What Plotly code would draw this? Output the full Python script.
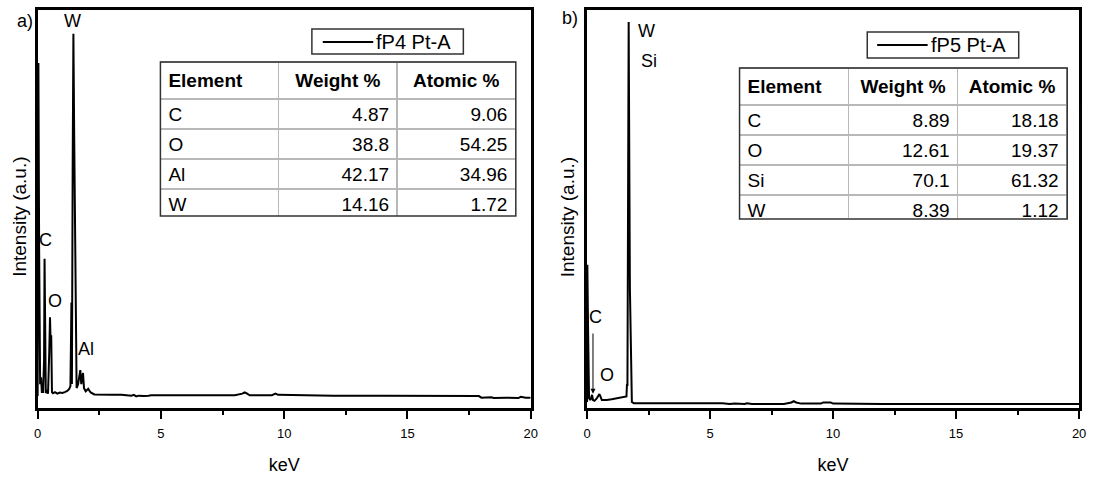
import plotly.graph_objects as go

# ---------------- spectrum data (energy in keV, intensity in a.u.) ----------------
kev_a = [0.00, 0.01, 0.03, 0.06, 0.10, 0.12, 0.14, 0.17, 0.22, 0.26, 0.28, 0.30, 0.33,
         0.38, 0.42, 0.47, 0.50, 0.52, 0.55, 0.58, 0.62, 0.70, 0.80, 0.90, 1.00, 1.10,
         1.20, 1.28, 1.33, 1.37, 1.39, 1.42, 1.45, 1.48, 1.52, 1.55, 1.58, 1.64, 1.73,
         1.77, 1.84, 1.88, 1.95, 2.05, 2.15, 2.30, 2.60, 3.00, 3.40, 3.80, 3.90, 4.00,
         4.10, 4.30, 4.50, 4.60, 5.00, 6.00, 7.00, 8.00, 8.30, 8.40, 8.50, 8.60, 9.50,
         9.65, 9.75, 10.50, 12.00, 14.00, 16.00, 17.90, 18.00, 18.40, 18.50, 19.00,
         19.50, 19.60, 19.80, 20.00]
int_a = [3.0, 60.0, 86.7, 40.0, 6.0, 7.5, 7.5, 4.0, 4.0, 12.0, 37.5, 10.0, 3.8,
         4.2, 3.6, 14.0, 22.8, 18.0, 18.3, 4.0, 3.7, 4.0, 3.6, 3.9, 3.8, 4.0,
         4.3, 4.8, 5.5, 26.5, 6.0, 60.0, 94.0, 70.0, 36.6, 6.0, 5.0, 6.0, 9.5,
         6.0, 8.8, 5.0, 4.2, 4.8, 3.9, 3.4, 3.3, 3.3, 3.3, 3.1, 3.3, 2.9,
         3.1, 3.0, 3.1, 3.2, 3.2, 3.2, 3.2, 3.2, 3.6, 3.9, 3.6, 3.2, 3.2,
         3.6, 3.3, 3.2, 3.1, 3.1, 3.0, 3.0, 2.6, 2.7, 2.5, 2.6,
         2.5, 2.8, 2.6, 2.6]

kev_b = [0.00, 0.01, 0.04, 0.08, 0.14, 0.20, 0.24, 0.30, 0.40, 0.50, 0.55, 0.60,
         0.70, 0.80, 1.00, 1.20, 1.40, 1.55, 1.60, 1.62, 1.64, 1.67, 1.69, 1.70,
         1.74, 1.77, 1.79, 1.82, 1.90, 2.50, 3.50, 4.50, 5.50, 5.80, 6.00, 6.40,
         6.50, 6.70, 7.00, 7.50, 8.00, 8.30, 8.40, 8.50, 8.70, 9.50, 9.60, 9.90,
         10.00, 12.00, 15.00, 18.00, 20.00]
int_b = [1.5, 36.0, 20.0, 2.5, 2.0, 3.3, 2.0, 1.8, 2.5, 3.5, 2.8, 2.0,
         2.0, 2.0, 2.2, 2.4, 2.7, 2.8, 2.9, 5.8, 5.8, 60.0, 97.0, 83.0,
         30.0, 15.8, 15.8, 1.5, 1.2, 1.2, 1.2, 1.2, 1.2, 1.0, 1.1, 1.0,
         1.2, 1.0, 1.0, 1.1, 1.0, 1.4, 1.7, 1.4, 1.1, 1.1, 1.4, 1.4,
         1.1, 1.0, 1.0, 1.0, 1.0]

series_a = "fP4 Pt-A"
series_b = "fP5 Pt-A"

# ---------------- composition tables ----------------
table_header = ["Element", "Weight %", "Atomic %"]
elements_a = ["C", "O", "Al", "W"]
weight_a = ["4.87", "38.8", "42.17", "14.16"]
atomic_a = ["9.06", "54.25", "34.96", "1.72"]
elements_b = ["C", "O", "Si", "W"]
weight_b = ["8.89", "12.61", "70.1", "8.39"]
atomic_b = ["18.18", "19.37", "61.32", "1.12"]

x_ticks = [0, 5, 10, 15, 20]

FONT = "Liberation Sans, Arial, sans-serif"
W, H = 1097, 478


def px(x):
    return x / W


def py(y):
    return 1 - y / H


fig = go.Figure()
fig.add_trace(go.Scatter(x=kev_a, y=int_a, mode="lines", name=series_a,
                         line=dict(color="black", width=2), showlegend=False,
                         xaxis="x", yaxis="y"))
fig.add_trace(go.Scatter(x=kev_b, y=int_b, mode="lines", name=series_b,
                         line=dict(color="black", width=2), showlegend=False,
                         xaxis="x2", yaxis="y2"))


def make_table(dom_x, dom_y, elems, wt, at, head_h, row_h):
    return go.Table(
        domain=dict(x=dom_x, y=dom_y),
        columnwidth=[1, 1, 1],
        header=dict(values=["<b>%s</b>" % h for h in table_header],
                    align=["left", "center", "center"],
                    height=head_h,
                    font=dict(family=FONT, size=19, color="black"),
                    fill=dict(color="white"),
                    line=dict(color="#b8b8b8", width=1.5)),
        cells=dict(values=[elems, wt, at],
                   align=["left", "right", "right"],
                   height=row_h,
                   font=dict(family=FONT, size=19, color="black"),
                   fill=dict(color="white"),
                   line=dict(color="#b8b8b8", width=1.5)),
    )


fig.add_trace(make_table([px(158), px(517)], [py(216), py(62)],
                         elements_a, weight_a, atomic_a, 34, 30))
fig.add_trace(make_table([px(743), px(1074)], [py(219), py(68)],
                         elements_b, weight_b, atomic_b, 31, 30))

shapes = []
annotations = []

# outer table borders
for x0, y0, x1, y1 in [(158, 62, 517, 216), (743, 68, 1074, 219)]:
    shapes.append(dict(type="rect", xref="paper", yref="paper",
                       x0=px(x0), x1=px(x1), y0=py(y1), y1=py(y0),
                       line=dict(color="#333333", width=1.5)))

# legend boxes with line sample
for (bx0, by0, bx1, by1, lx0, lx1, ly, name) in [
        (311, 29, 464, 54, 322, 373, 42, series_a),
        (872, 32, 1025, 58, 882, 933, 45, series_b)]:
    shapes.append(dict(type="rect", xref="paper", yref="paper",
                       x0=px(bx0), x1=px(bx1), y0=py(by1), y1=py(by0),
                       line=dict(color="#333333", width=1.5), fillcolor="white"))
    shapes.append(dict(type="line", xref="paper", yref="paper",
                       x0=px(lx0), x1=px(lx1), y0=py(ly), y1=py(ly),
                       line=dict(color="black", width=2)))
    annotations.append(dict(text=name, xref="paper", yref="paper",
                            x=px(lx1 + 1), y=py(ly), xanchor="left", yanchor="middle",
                            showarrow=False, font=dict(family=FONT, size=20, color="black")))

# panel letters
annotations.append(dict(text="a)", xref="paper", yref="paper", x=px(21), y=py(21),
                        xanchor="center", yanchor="middle",
                        showarrow=False, font=dict(family=FONT, size=18, color="black")))
annotations.append(dict(text="b)", xref="paper", yref="paper", x=px(572), y=py(18),
                        xanchor="center", yanchor="middle",
                        showarrow=False, font=dict(family=FONT, size=18, color="black")))

# axis titles on the left of each panel
for xc in (15, 569):
    annotations.append(dict(text="Intensity (a.u.)", xref="paper", yref="paper",
                            x=px(xc), y=py(217), textangle=-90,
                            xanchor="center", yanchor="middle", showarrow=False,
                            font=dict(family=FONT, size=19, color="black")))

# peak labels
peak_font = dict(family=FONT, size=18, color="black")
for t, x, y in [("W", 1.41, 97.2), ("C", 0.32, 42.1), ("O", 0.70, 26.8), ("Al", 1.97, 14.8)]:
    annotations.append(dict(text=t, xref="x", yref="y", x=x, y=y, showarrow=False,
                            xanchor="center", yanchor="middle", font=peak_font))
for t, x, y in [("W", 2.42, 94.7), ("Si", 2.50, 87.2), ("C", 0.36, 22.9), ("O", 0.81, 8.3)]:
    annotations.append(dict(text=t, xref="x2", yref="y2", x=x, y=y, showarrow=False,
                            xanchor="center", yanchor="middle", font=peak_font))
annotations.append(dict(text="", xref="x2", yref="y2", axref="x2", ayref="y2",
                        x=0.24, y=3.6, ax=0.24, ay=19.1, showarrow=True,
                        arrowhead=2, arrowsize=1, arrowwidth=1, arrowcolor="black"))

xaxis_common = dict(range=[0, 20], tickvals=x_ticks, ticks="outside", ticklen=8, tickwidth=2,
                    tickcolor="black", showline=True, linecolor="black", linewidth=2.5,
                    mirror=True, showgrid=False, zeroline=False, ticklabelstandoff=4,
                    minor=dict(dtick=2.5, tick0=0, ticks="outside", ticklen=4, tickwidth=2,
                               tickcolor="black", showgrid=False),
                    tickfont=dict(family=FONT, size=13, color="black"),
                    title=dict(text="keV", font=dict(family=FONT, size=18, color="black"),
                               standoff=19))
yaxis_common = dict(range=[0, 100], showticklabels=False, ticks="", showline=True,
                    linecolor="black", linewidth=2.5, mirror=True, showgrid=False,
                    zeroline=False)

ydom = [py(408), py(10)]
fig.update_layout(
    width=W, height=H,
    margin=dict(l=0, r=0, t=0, b=0),
    paper_bgcolor="white", plot_bgcolor="white",
    showlegend=False,
    xaxis=dict(domain=[px(34), px(532)], anchor="y", **xaxis_common),
    yaxis=dict(domain=ydom, anchor="x", **yaxis_common),
    xaxis2=dict(domain=[px(589), px(1086)], anchor="y2", **xaxis_common),
    yaxis2=dict(domain=ydom, anchor="x2", **yaxis_common),
    shapes=shapes,
    annotations=annotations,
)

fig.write_html("out.html")
